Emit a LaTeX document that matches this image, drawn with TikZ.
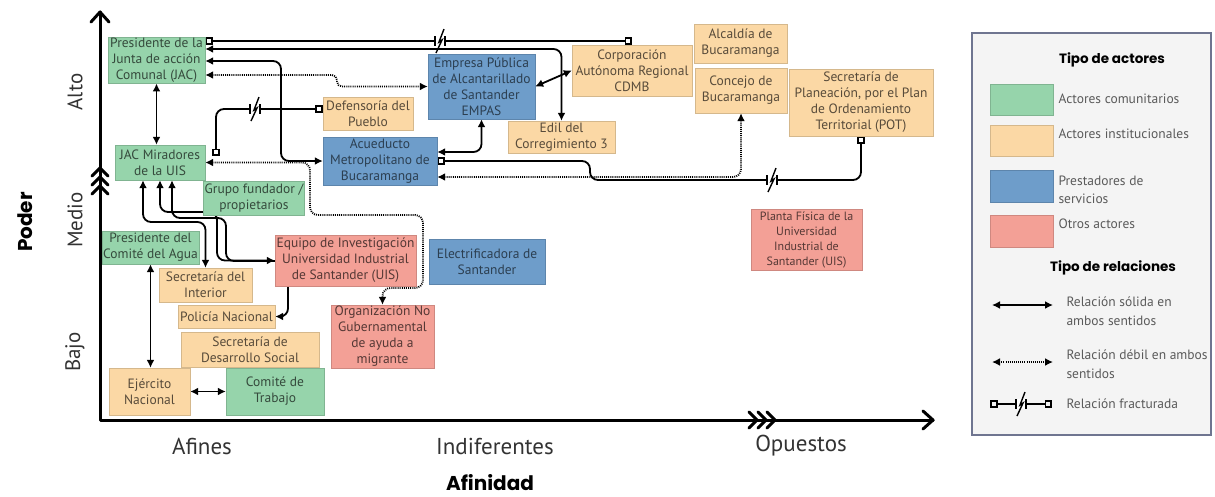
\documentclass[tikz,border=0pt]{standalone}
\usepackage{fontspec}
\setmainfont{PT Sans}
\newfontfamily\titlefont{Poppins}
\usepackage{tikz}
\usetikzlibrary{arrows.meta}
\usepackage{xcolor}
\definecolor{verde}{HTML}{96D4AB}
\definecolor{naranja}{HTML}{FBD8A5}
\definecolor{azul}{HTML}{6E9DCA}
\definecolor{rojo}{HTML}{F3A096}
\definecolor{marco}{HTML}{6F7590}
\definecolor{fondoley}{HTML}{F4F4F4}
\definecolor{gris}{HTML}{5A5A5A}
\pgfdeclarelayer{fondo}
\pgfsetlayers{fondo,main}

\begin{document}
\begin{tikzpicture}[x=1pt, y=-1pt,
  actor/.style={rectangle, align=center, inner sep=1pt, font=\fontsize{13.5}{16}\selectfont},
  comu/.style={actor, fill=verde, draw=verde!85!black, text=verde!35!black},
  inst/.style={actor, fill=naranja, draw=naranja!85!black, text=naranja!35!black},
  serv/.style={actor, fill=azul, draw=azul!85!black, text=azul!40!black},
  otro/.style={actor, fill=rojo, draw=rojo!85!black, text=rojo!35!black},
  solida/.style={line width=1.8pt, {Latex[length=8pt,width=8pt]}-{Latex[length=8pt,width=8pt]}},
  debil/.style={solida, dash pattern=on 1pt off 1.1pt},
  fractura/.style={line width=1.8pt, {Square[open,length=7.5pt,width=7.5pt]}-{Square[open,length=7.5pt,width=7.5pt]}},
  eje/.style={line width=3pt, line cap=round, line join=round},
  nivel/.style={rotate=90, text=black!80, font=\fontsize{21}{24}\selectfont},
  grado/.style={text=black!80, font=\fontsize{23}{26}\selectfont},
  titulo/.style={inner sep=0pt, font=\titlefont\bfseries\fontsize{20}{23}\selectfont},
  subtitulo/.style={inner sep=0pt, font=\titlefont\bfseries\fontsize{13.5}{16}\selectfont},
  leyenda/.style={anchor=west, align=left, text=gris, font=\fontsize{13.5}{18.5}\selectfont},
  rotura/.pic={
    \fill[white] (-5,-5) rectangle (5,5);
    \draw[line width=1.5pt] (-5,-5) -- (-5,5) (5,-5) -- (5,5);
    \draw[line width=1.4pt] (4,-12) -- (-1,1) -- (2,-1) -- (-4,12);
  }]
  \useasboundingbox (0,0) rectangle (1215,496);

  % ejes
  \draw[eje] (100,12) -- (100,420) -- (933,420);
  \draw[eje] (91,22) -- (100,12) -- (109,22);
  \draw[eje] (923,411) -- (933,420) -- (923,429);
  \foreach \d in {0,9,18} {
    \draw[eje] (92,176+\d) -- (100,168+\d) -- (108,176+\d);
    \draw[eje] (749+\d,412) -- (757+\d,420) -- (749+\d,428);
  }
  \node[nivel] (alto) at (75,92) {Alto};
  \node[nivel] (medio) at (75,220) {Medio};
  \node[nivel] (bajo) at (75,352) {Bajo};
  \node[titulo, rotate=90] (poder) at (25,222) {Poder};
  \node[grado] (afines) at (202,446) {Afines};
  \node[grado] (indif) at (495,446) {Indiferentes};
  \node[grado] (opuestos) at (801,446) {Opuestos};
  \node[titulo] (afinidad) at (490,483) {Afinidad};

  % actores
  \node[comu, minimum width=97, minimum height=46] (pjac) at (156.5,60) {Presidente de la\\Junta de acción\\Comunal (JAC)};
  \node[comu, minimum width=90, minimum height=35] (jacm) at (160,162.5) {JAC Miradores\\de la UIS};
  \node[comu, minimum width=96, minimum height=34] (grupo) at (254,198) {Grupo fundador /\\propietarios};
  \node[comu, minimum width=95, minimum height=33] (pagua) at (150.5,247.5) {Presidente del\\Comité del Agua};
  \node[inst, minimum width=93, minimum height=34] (sinterior) at (205.5,285) {Secretaría del\\Interior};
  \node[inst, minimum width=97, minimum height=23] (policia) at (226.5,316.5) {Policía Nacional};
  \node[inst, minimum width=138, minimum height=35] (sdesarrollo) at (250,349.5) {Secretaría de\\Desarrollo Social};
  \node[inst, minimum width=81, minimum height=47] (ejercito) at (149.5,391.5) {Ejército\\Nacional};
  \node[comu, minimum width=98, minimum height=47] (ctrabajo) at (275,391.5) {Comité de\\Trabajo};
  \node[inst, minimum width=90, minimum height=33] (defensoria) at (368,113.5) {Defensoría del\\Pueblo};
  \node[serv, minimum width=114, minimum height=48] (acueducto) at (380,161) {Acueducto\\Metropolitano de\\Bucaramanga};
  \node[serv, minimum width=107, minimum height=65] (empas) at (481.5,86.5) {Empresa Pública\\de Alcantarillado\\de Santander\\EMPAS};
  \node[inst, minimum width=107, minimum height=32] (edil) at (561.5,137) {Edil del\\Corregimiento 3};
  \node[inst, minimum width=120, minimum height=51] (cdmb) at (632,70.5) {Corporación\\Autónoma Regional\\CDMB};
  \node[inst, minimum width=93, minimum height=39] (alcaldia) at (740.5,43.5) {Alcaldía de\\Bucaramanga};
  \node[inst, minimum width=92, minimum height=45] (concejo) at (741,90.5) {Concejo de\\Bucaramanga};
  \node[inst, minimum width=144, minimum height=67] (splaneacion) at (861,102.5) {Secretaría de\\Planeación, por el Plan\\de Ordenamiento\\Territorial (POT)};
  \node[otro, minimum width=141, minimum height=51] (equipo) at (345.5,260.5) {Equipo de Investigación\\Universidad Industrial\\de Santander (UIS)};
  \node[serv, minimum width=116, minimum height=45] (electrif) at (487,261.5) {Electrificadora de\\Santander};
  \node[otro, minimum width=103, minimum height=63] (ong) at (382.5,336.5) {Organización No\\Gubernamental\\de ayuda a\\migrante};
  \node[otro, minimum width=111, minimum height=61, font=\fontsize{12}{15}\selectfont] (planta) at (806.5,239.5) {Planta Física de la\\Universidad\\Industrial de\\Santander (UIS)};
  \coordinate (fjacm) at (216,156);

  % relaciones
  \begin{pgfonlayer}{fondo}
    \draw[solida] (pjac.south) -- (pjac.south |- jacm.north);
    \draw[fractura] (pjac.east |- 0,41) -- (cdmb.north |- 0,41);
    \draw[solida, rounded corners=8] (pjac.east |- 0,49) -| (edil.north);
    \draw[solida, rounded corners=8] (pjac.east |- 0,61) -- (281,61) |- (acueducto.west);
    \draw[debil, rounded corners=5] (pjac.east |- 0,75) -- (337,75) |- (empas.west);
    \draw[fractura, rounded corners=8] (fjacm) |- (defensoria.west |- 0,109);
    \draw[debil, rounded corners=8] (jacm.east) -- (310,162.5) -- (310,215) -- (423,215) -- (423,288) -| (ong.north);
    \draw[solida, rounded corners=8] (143,0 |- jacm.south) -- (143,222) -| (sinterior.north);
    \draw[solida, rounded corners=8] (jacm.south) -- (160,212) -- (217,212) |- (equipo.west);
    \draw[solida, rounded corners=8] (172,0 |- jacm.south) -- (172,218) -- (226,218) -- (226,261) -- (288,261) |- (policia.east);
    \draw[solida] (pagua.south) -- (pagua.south |- ejercito.north);
    \draw[solida] (ejercito.east) -- (ctrabajo.west);
    \draw[solida, rounded corners=8] (empas.south) |- (acueducto.east |- 0,152);
    \draw[solida] (empas.east) -- (cdmb.west);
    \draw[fractura, rounded corners=8] (acueducto.east) -- (590,161) |- (700,180) -| (splaneacion.south);
    \draw[debil, rounded corners=8] (acueducto.east |- 0,177) -| (concejo.south);
  \end{pgfonlayer}
  \pic at (440,41) {rotura};
  \pic at (255,109) {rotura};
  \pic at (772,180) {rotura};

  % leyenda
  \draw[draw=marco, fill=fondoley, line width=2.5pt] (972,33) rectangle (1211,435);
  \node[subtitulo] (tactores) at (1112,60) {Tipo de actores};
  \node[comu, minimum width=63, minimum height=31] (mcomu) at (1021.5,99.5) {};
  \node[inst, minimum width=63, minimum height=31] (minst) at (1021.5,140.5) {};
  \node[serv, minimum width=63, minimum height=32] (mserv) at (1021.5,186) {};
  \node[otro, minimum width=63, minimum height=32] (motro) at (1021.5,231) {};
  \node[leyenda] (lcomu) at (1055,99) {Actores comunitarios};
  \node[leyenda] (linst) at (1055,134) {Actores institucionales};
  \node[leyenda] (lserv) at (1055,190) {Prestadores de\\servicios};
  \node[leyenda] (lotro) at (1055,224) {Otros actores};
  \node[subtitulo] (trel) at (1113,268) {Tipo de relaciones};
  \coordinate (ls1) at (992,305);
  \coordinate (ls2) at (1053,305);
  \coordinate (ld1) at (992,362);
  \coordinate (ld2) at (1053,362);
  \coordinate (lf1) at (990,404);
  \coordinate (lf2) at (1052,404);
  \draw[solida] (ls1) -- (ls2);
  \draw[debil] (ld1) -- (ld2);
  \draw[fractura] (lf1) -- (lf2);
  \pic at (1021,404) {rotura};
  \node[leyenda] (lsol) at (1063,311) {Relación sólida en\\ambos sentidos};
  \node[leyenda] (ldeb) at (1063,364) {Relación débil en ambos\\sentidos};
  \node[leyenda] (lfra) at (1063,404) {Relación fracturada};
\end{tikzpicture}
\end{document}
